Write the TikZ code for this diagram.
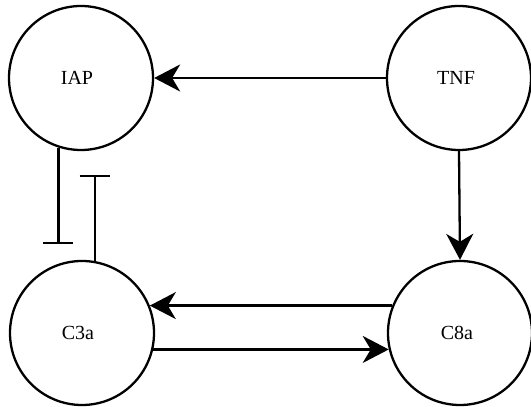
\documentclass[tikz,border=0pt]{standalone}
\usepackage{fontspec}
\setmainfont{Liberation Serif}
\usetikzlibrary{arrows.meta}
\begin{document}
\begin{tikzpicture}[x=1pt,y=1pt,
  proc/.style={circle,draw,line width=2.3pt,minimum size=144pt,inner sep=0pt,
    font=\fontsize{20}{24}\selectfont},
  act/.style={line width=2.3pt,-{Stealth[length=26pt,width=27pt,inset=8pt]}},
  inh/.style={line width=2.3pt,-{Bar[width=30pt,line width=2.3pt]}}]
\useasboundingbox (0,0) rectangle (531,407);
\node[proc] (IAP) at (81,329) {IAP\hspace*{8pt}};
\node[proc] (TNF) at (459,329) {TNF\hspace*{6pt}};
\node[proc] (C3a) at (82,74) {C3a\hspace*{8pt}};
\node[proc] (C8a) at (460,74) {C8a\hspace*{6pt}};
\coordinate (i1) at (57.6,163);
\coordinate (i2) at (93,232);
\draw[act] (TNF.west) -- (IAP.east);
\draw[act] (TNF.south) -- (C8a.north);
\draw[act] (C8a.158) -- (C8a.158 -| C3a.22);
\draw[act] (C3a.-13) -- (C3a.-13 -| C8a.193);
\draw[inh] (IAP.252) -- (IAP.252 |- i1);
\draw[inh] (C3a.80.5) -- (C3a.80.5 |- i2);
\end{tikzpicture}
\end{document}
